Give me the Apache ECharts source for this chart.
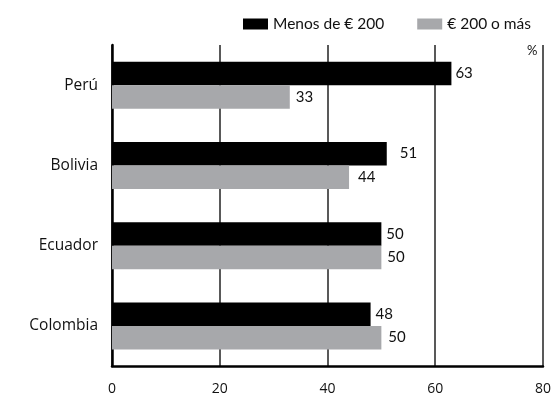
<!DOCTYPE html>
<html>
<head>
<meta charset="utf-8">
<script src="https://cdn.jsdelivr.net/npm/echarts@6/dist/echarts.min.js"></script>
<style>
  html, body { margin: 0; padding: 0; background: #fff; }
  #chart { width: 554px; height: 397px; }
</style>
</head>
<body>
<div id="chart"></div>
<script>
// Share of households by income bracket, per country (%)
const countries = ['Perú', 'Bolivia', 'Ecuador', 'Colombia'];
const seriesNames = ['Menos de € 200', '€ 200 o más'];
const lowIncome = [63, 51, 50, 48];
const highIncome = [33, 44, 50, 50];
const xTicks = [0, 20, 40, 60, 80];

// gap between a bar's end and its value label, per country
const lowLabelGap = [4, 13, 5, 5];
const highLabelGap = [6, 9, 6, 7];

const font = 'Open Sans';
const chart = echarts.init(document.getElementById('chart'), null, { renderer: 'canvas' });

function withLabels(values, gaps) {
  return values.map((v, i) => ({
    value: v,
    label: { distance: gaps[i] }
  }));
}

const labelStyle = {
  show: true,
  position: 'right',
  color: '#111',
  fontFamily: 'Lato',
  fontSize: 15
};

chart.setOption({
  animation: false,
  backgroundColor: '#fff',
  textStyle: { fontFamily: font },
  legend: {
    top: 11,
    left: 238,
    itemWidth: 25,
    itemHeight: 11,
    itemGap: 33,
    icon: 'rect',
    textStyle: { fontFamily: 'Lato', fontSize: 15.5, color: '#111' },
    data: seriesNames
  },
  graphic: [{
    type: 'text',
    left: 527,
    top: 44,
    style: { text: '%', fontFamily: 'Lato', fontSize: 13, fill: '#111' }
  }],
  grid: { left: 112, right: 8, top: 45, bottom: 31, containLabel: false },
  xAxis: {
    type: 'value',
    min: xTicks[0],
    max: xTicks[xTicks.length - 1],
    interval: 20,
    axisLine: { show: true, lineStyle: { color: '#000', width: 2.5 } },
    axisTick: { show: false },
    axisLabel: { color: '#111', fontSize: 14, fontFamily: font, margin: 16 },
    splitLine: { show: true, lineStyle: { color: '#222', width: 1.5 } }
  },
  yAxis: {
    type: 'category',
    inverse: true,
    data: countries,
    axisLine: { show: true, lineStyle: { color: '#000', width: 2.5 } },
    axisTick: { show: false },
    axisLabel: { color: '#111', fontSize: 15.5, fontFamily: font, margin: 14 },
    splitLine: { show: false }
  },
  series: [
    {
      name: seriesNames[0],
      type: 'bar',
      data: withLabels(lowIncome, lowLabelGap),
      barWidth: 23.5,
      barGap: '0%',
      itemStyle: { color: '#000' },
      label: labelStyle
    },
    {
      name: seriesNames[1],
      type: 'bar',
      data: withLabels(highIncome, highLabelGap),
      barWidth: 23.5,
      barGap: '0%',
      itemStyle: { color: '#a7a8ab' },
      label: labelStyle
    }
  ]
});
</script>
</body>
</html>
